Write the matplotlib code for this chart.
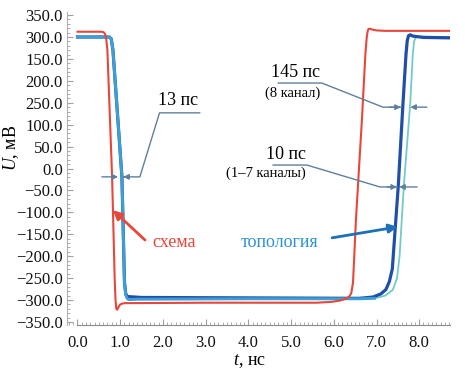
import matplotlib
matplotlib.use('Agg')
import matplotlib.pyplot as plt
from matplotlib.ticker import FixedLocator, FixedFormatter, AutoMinorLocator

plt.rcParams['font.family'] = ['Liberation Serif', 'DejaVu Serif']
plt.rcParams['mathtext.fontset'] = 'custom'
plt.rcParams['mathtext.it'] = 'Liberation Serif:italic'
plt.rcParams['mathtext.rm'] = 'Liberation Serif'

# scheme (red)
t_scheme = [0.0, 0.55, 0.61, 0.645, 0.67, 0.70, 0.81, 0.87, 0.89, 0.91, 0.93, 0.96, 1.0, 1.05,
            1.1, 3.0, 5.6, 5.95, 6.15, 6.28, 6.36, 6.41, 6.45, 6.52, 6.66, 6.74, 6.77, 6.79,
            6.81, 6.84, 6.9, 7.0, 7.2, 8.72]
u_scheme = [312, 312, 311, 307, 298, 270, -19, -250, -300, -320, -322, -316, -310, -308,
            -307, -306, -306, -304, -301, -297, -292, -284, -260, -114, 114, 262, 298, 312,
            318, 319, 317, 315, 314, 314]

# topology, channels 1-7 (dark blue)
t_ch17 = [0.0, 0.74, 0.79, 0.83, 1.04, 1.10, 1.13, 1.17, 1.5, 4.0, 6.6, 6.92, 7.1, 7.22,
          7.30, 7.37, 7.51, 7.62, 7.69, 7.72, 7.75, 7.79, 7.85, 8.1, 8.72]
u_ch17 = [300, 300, 296, 270, -19, -260, -286, -292, -294, -295, -296, -293, -286, -276,
          -258, -229, -39, 149, 260, 292, 303, 305, 302, 299, 298]

# topology, channel 8 (teal)
t_ch8 = [0.0, 0.74, 0.79, 0.83, 1.04, 1.10, 1.13, 1.18, 1.5, 4.0, 6.6, 7.0, 7.2, 7.38,
         7.48, 7.54, 7.64, 7.79, 7.85, 7.88, 7.92, 7.97, 8.72]
u_ch8 = [300, 300, 296, 270, -19, -260, -290, -297, -297, -297, -297, -295, -290, -277,
         -250, -200, -39, 149, 262, 290, 299, 301, 300]

# topology, common falling edge and bottom level (light blue)
t_topo = [0.0, 0.74, 0.79, 0.83, 1.04, 1.10, 1.13, 1.16, 1.20, 1.4, 4.0, 6.6, 6.95]
u_topo = [300, 300, 296, 270, -19, -260, -288, -296, -299, -298, -297, -297, -296]

y_ticks = [350, 300, 250, 200, 150, 100, 50, 0, -50, -100, -150, -200, -250, -300, -350]
y_labels = ['350.0', '300.0', '150.0', '200.0', '250.0', '100.0', '50.0', '0.0', '\u221250.0',
            '\u2212100.0', '\u2212150.0', '\u2212200.0', '\u2212250.0', '\u2212300.0', '\u2212350.0']
x_ticks = [0, 1, 2, 3, 4, 5, 6, 7, 8]
x_labels = ['0.0', '1.0', '2.0', '3.0', '4.0', '5.0', '6.0', '7.0', '8.0']

RED = '#e8463a'
LBLUE = '#3c9fd6'
DBLUE = '#1f4fa8'
TEAL = '#72cbc8'
ANN = '#5f7f9c'

fig = plt.figure(figsize=(4.65, 3.87), dpi=100)
ax = fig.add_axes([0.1437, 0.160, 0.824, 0.809])

ax.plot(t_ch8, u_ch8, color=TEAL, lw=1.3, zorder=2)
ax.plot(t_ch17, u_ch17, color=DBLUE, lw=2.3, zorder=3)
ax.plot(t_topo, u_topo, color=LBLUE, lw=2.1, zorder=4)
ax.plot(t_scheme, u_scheme, color=RED, lw=1.5, zorder=5)

ax.set_xlim(-0.25, 8.72)
ax.set_ylim(-357, 357)

ax.yaxis.set_major_locator(FixedLocator(y_ticks))
ax.yaxis.set_major_formatter(FixedFormatter(y_labels))
ax.xaxis.set_major_locator(FixedLocator(x_ticks))
ax.xaxis.set_major_formatter(FixedFormatter(x_labels))
ax.xaxis.set_minor_locator(AutoMinorLocator(10))
ax.yaxis.set_minor_locator(AutoMinorLocator(5))
ax.tick_params(which='both', direction='in', colors='#a0a0a0', labelcolor='#111111', labelsize=12)
ax.tick_params(which='major', length=4, width=0.8)
ax.tick_params(which='minor', length=2.5, width=0.6)
ax.tick_params(axis='y', pad=3)
ax.tick_params(axis='x', pad=7)

for s in ['top', 'right']:
    ax.spines[s].set_visible(False)
ax.spines['left'].set_color('#b0b0b0')
ax.spines['bottom'].set_color('#8a8a8a')
ax.spines['bottom'].set_bounds(0, 8.72)

ax.set_ylabel('$U$, мВ', fontsize=13, va='center')
ax.yaxis.set_label_coords(-0.146, 0.565)
ax.set_xlabel('$t$, нс', fontsize=13, va='center')
ax.xaxis.set_label_coords(0.478, -0.115)

arr = dict(arrowstyle='-|>', mutation_scale=8, lw=1, color=ANN, shrinkA=0, shrinkB=0)

# 13 ps
ax.plot([2.86, 1.92, 1.46, 1.07], [127, 127, -19, -19], color=ANN, lw=1, zorder=6)
ax.annotate('', xy=(1.07, -19), xytext=(1.2, -19), arrowprops=arr, zorder=7)
ax.annotate('', xy=(0.95, -19), xytext=(0.57, -19), arrowprops=arr, zorder=7)
ax.text(2.35, 156, '13 пс', fontsize=13, ha='center', va='center')

# 145 ps
ax.plot([4.70, 5.72, 7.15, 7.57], [195, 195, 140, 140], color=ANN, lw=1, zorder=6)
ax.annotate('', xy=(7.57, 140), xytext=(7.3, 140), arrowprops=arr, zorder=7)
ax.annotate('', xy=(7.79, 140), xytext=(8.18, 140), arrowprops=arr, zorder=7)
ax.text(5.68, 218, '145 пс', fontsize=13, ha='right', va='center')
ax.text(5.68, 172, '(8 канал)', fontsize=10.5, ha='right', va='center')

# 10 ps
ax.plot([4.58, 5.37, 7.08, 7.48], [8, 8, -42, -42], color=ANN, lw=1, zorder=6)
ax.annotate('', xy=(7.48, -42), xytext=(7.25, -42), arrowprops=arr, zorder=7)
ax.annotate('', xy=(7.53, -42), xytext=(7.95, -42), arrowprops=arr, zorder=7)
ax.text(5.35, 31, '10 пс', fontsize=13, ha='right', va='center')
ax.text(5.35, -10, '(1–7 каналы)', fontsize=10.5, ha='right', va='center')

# labels
ax.annotate('', xy=(0.83, -95), xytext=(1.58, -163),
            arrowprops=dict(arrowstyle='-|>', mutation_scale=13, lw=2, color=RED,
                            shrinkA=0, shrinkB=0), zorder=8)
ax.text(2.26, -168, 'схема', fontsize=13, color=RED, ha='center', va='center')
ax.annotate('', xy=(7.50, -133), xytext=(5.96, -158),
            arrowprops=dict(arrowstyle='-|>', mutation_scale=13, lw=2, color='#1b70b8',
                            shrinkA=0, shrinkB=0), zorder=8)
ax.text(4.74, -168, 'топология', fontsize=13, color='#2d94d2', ha='center', va='center')

fig.savefig('out.png', dpi=100)
